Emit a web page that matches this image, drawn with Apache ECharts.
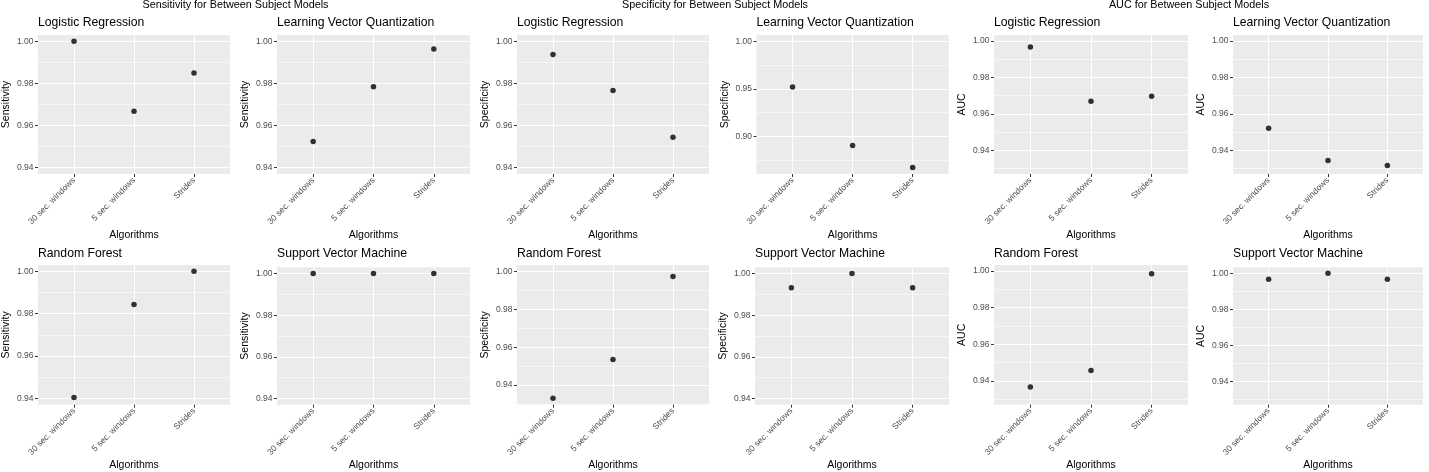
<!DOCTYPE html>
<html><head><meta charset="utf-8">
<script src="https://cdn.jsdelivr.net/npm/echarts@6/dist/echarts.min.js"></script>
<style>html,body{margin:0;padding:0;background:#fff}#c{width:1429px;height:472px}</style>
</head><body><div id="c"></div>
<script>
// ---------- data ----------
const categories = ['30 sec. windows', '5 sec. windows', 'Strides'];
const metrics = ['Sensitivity', 'Specificity', 'AUC'];
const models = ['Logistic Regression', 'Learning Vector Quantization', 'Random Forest', 'Support Vector Machine'];
const xAxisTitle = 'Algorithms';

const sensLR  = [1.000, 0.9668, 0.9850];
const sensLVQ = [0.9524, 0.9784, 0.9964];
const sensRF  = [0.9404, 0.9843, 1.000];
const sensSVM = [1.000, 1.000, 1.000];

const specLR  = [0.9937, 0.9767, 0.9545];
const specLVQ = [0.9520, 0.8905, 0.8674];
const specRF  = [0.9331, 0.9535, 0.9973];
const specSVM = [0.9932, 1.000, 0.9932];

const aucLR  = [0.9967, 0.9669, 0.9697];
const aucLVQ = [0.9521, 0.9344, 0.9317];
const aucRF  = [0.9366, 0.9457, 0.9985];
const aucSVM = [0.9966, 1.000, 0.9966];

// y-axis limits and tick labels
const limA = [0.937, 1.003];
const limSpecLVQ = [0.8605, 1.0066];
const limSpecRF = [0.9297, 1.0033];
const limAUC = [0.9270, 1.0033];
const ticks002 = [0.94, 0.96, 0.98, 1.00];
const minor002 = [0.93, 0.95, 0.97, 0.99];
const ticks005 = [0.90, 0.95, 1.00];
const minor005 = [0.875, 0.925, 0.975];

// ---------- panels (metric, model, values, limits, ticks) ----------
const panels = [
  [0, 0, sensLR, limA, ticks002, minor002],
  [0, 1, sensLVQ, limA, ticks002, minor002],
  [0, 2, sensRF, limA, ticks002, minor002],
  [0, 3, sensSVM, limA, ticks002, minor002],
  [1, 0, specLR, limA, ticks002, minor002],
  [1, 1, specLVQ, limSpecLVQ, ticks005, minor005],
  [1, 2, specRF, limSpecRF, ticks002, minor002],
  [1, 3, specSVM, limA, ticks002, minor002],
  [2, 0, aucLR, limAUC, ticks002, minor002],
  [2, 1, aucLVQ, limAUC, ticks002, minor002],
  [2, 2, aucRF, limAUC, ticks002, minor002],
  [2, 3, aucSVM, limAUC, ticks002, minor002]
];

// ---------- layout ----------
const boxes = [
  [38, 35, 192, 139], [277, 35, 193, 139], [38, 265, 192, 140], [277, 267.3, 193, 137.7],
  [517, 35, 192, 139], [756.5, 35, 192.2, 139], [517, 265, 192, 140], [755, 267.3, 194, 137.7],
  [994, 35, 194, 139], [1233, 35, 190, 139], [994, 265, 194, 140.7], [1233, 267.3, 190, 138.7]
];
const superX = [235.5, 715, 1189];
const FONT = '"Liberation Sans", Arial, Helvetica, sans-serif';

const grid = [], xAxis = [], yAxis = [], series = [], graphic = [];

metrics.forEach((m, i) => {
  graphic.push({ type: 'text', x: superX[i], y: 5.5, silent: true,
    style: { text: m + ' for Between Subject Models', font: '10.8px ' + FONT, fill: '#000', textAlign: 'center', textVerticalAlign: 'middle' } });
});

panels.forEach((p, i) => {
  const [mi, mo, values, lim, major, minor] = p;
  const [l, t, w, h] = boxes[i];
  const bottomRow = t > 200;
  grid.push({ left: l, top: t, width: w, height: h, show: true, backgroundColor: '#EBEBEB', borderWidth: 0, containLabel: false });
  graphic.push({ type: 'text', x: l, y: bottomRow ? 253.7 : 22.5, silent: true,
    style: { text: models[mo], font: '12.2px ' + FONT, fill: '#000', textAlign: 'left', textVerticalAlign: 'middle' } });
  xAxis.push({
    type: 'value', gridIndex: i, min: -0.6, max: 2.6, position: 'bottom',
    name: xAxisTitle, nameLocation: 'middle', nameGap: bottomRow ? 54 : 52,
    nameTextStyle: { color: '#000', fontSize: 10.5, fontFamily: FONT },
    axisLine: { show: false, onZero: false },
    axisTick: { show: true, length: 3, customValues: [0, 1, 2], lineStyle: { color: '#333333', width: 1 } },
    axisLabel: { show: true, customValues: [0, 1, 2], rotate: 45, margin: 5, fontSize: 8.5, color: '#4D4D4D', fontFamily: FONT,
      formatter: v => categories[Math.round(v)] },
    splitLine: { show: true, lineStyle: { color: '#FFFFFF', width: 1.1 } }
  });
  yAxis.push({
    type: 'value', gridIndex: i, min: lim[0], max: lim[1], position: 'left',
    name: metrics[mi], nameLocation: 'middle', nameGap: 26, nameRotate: 90,
    nameTextStyle: { color: '#000', fontSize: 10.5, fontFamily: FONT },
    axisLine: { show: false, onZero: false },
    axisTick: { show: true, length: 3, customValues: major, lineStyle: { color: '#333333', width: 1 } },
    axisLabel: { show: true, customValues: major, margin: 4.5, fontSize: 8.5, color: '#4D4D4D', fontFamily: FONT,
      formatter: v => v.toFixed(2) },
    splitLine: { show: true, lineStyle: { color: '#FFFFFF', width: 1.1 } }
  });
  yAxis.push({
    type: 'value', gridIndex: i, min: lim[0], max: lim[1], position: 'left',
    axisLine: { show: false, onZero: false },
    axisTick: { show: false, customValues: minor },
    axisLabel: { show: false, customValues: minor },
    splitLine: { show: true, lineStyle: { color: '#FFFFFF', width: 0.55 } }
  });
  series.push({
    type: 'scatter', xAxisIndex: i, yAxisIndex: 2 * i, symbol: 'circle', symbolSize: 5.5,
    itemStyle: { color: '#000000' }, silent: true, clip: false, z: 5,
    data: values.map((v, k) => [k, v])
  });
});

const chart = echarts.init(document.getElementById('c'), null, { renderer: 'canvas' });
chart.setOption({ animation: false, backgroundColor: '#FFFFFF', grid, xAxis, yAxis, series, graphic });
</script></body></html>
